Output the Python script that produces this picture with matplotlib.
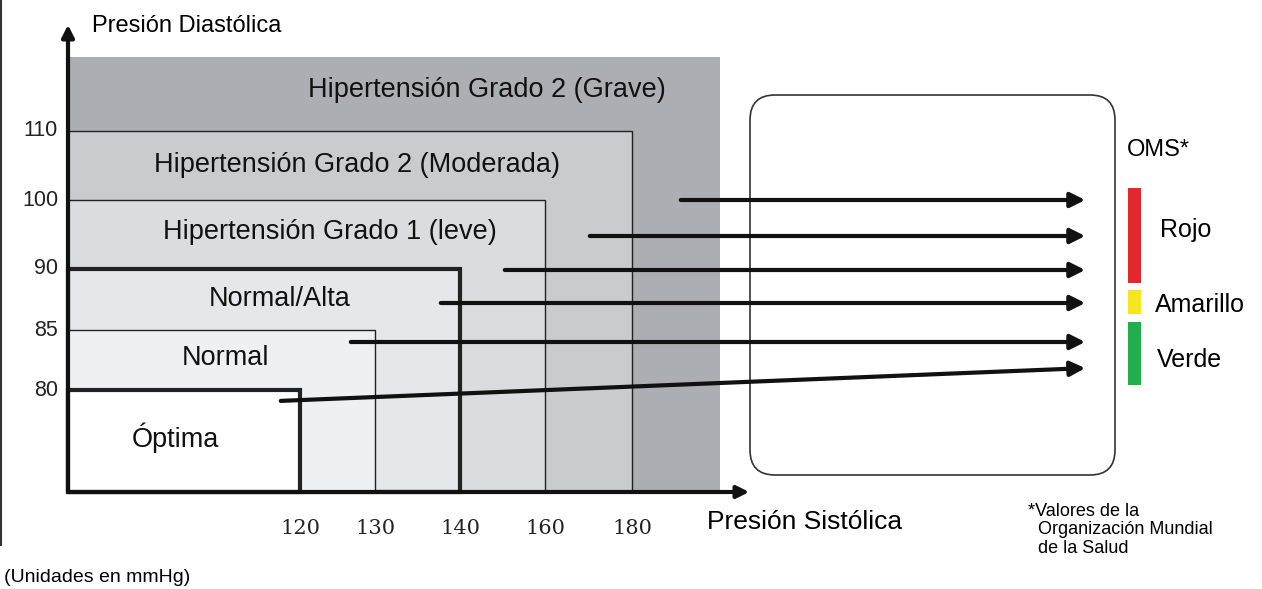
import matplotlib
matplotlib.use("Agg")
import matplotlib.pyplot as plt
import numpy as np
from matplotlib.patches import Rectangle, FancyBboxPatch

plt.rcParams['font.family'] = ['Liberation Sans', 'DejaVu Sans']

sys_ticks = [120, 130, 140, 160, 180]
dia_ticks = [80, 85, 90, 100, 110]
categories = ["Hipertensión Grado 2 (Grave)", "Hipertensión Grado 2 (Moderada)",
              "Hipertensión Grado 1 (leve)", "Normal/Alta", "Normal", "Óptima"]
cat_sys = [190, 180, 160, 140, 130, 120]
cat_dia = [116, 110, 100, 90, 85, 80]
oms_labels = ["Rojo", "Amarillo", "Verde"]

# pixel anchors for the non-linear scales
sx_v = [100, 120, 130, 140, 160, 180, 190]
sx_p = [68, 300, 375, 460, 545, 632, 720]
dy_v = [70, 80, 85, 90, 100, 110, 116]
dy_p = [492, 390, 330, 269, 200, 131, 57]
X = lambda v: np.interp(v, sx_v, sx_p)
Y = lambda v: np.interp(v, dy_v, dy_p)

fig = plt.figure(figsize=(12.62, 5.89), dpi=100)
ax = fig.add_axes([0, 0, 1, 1])
ax.set_xlim(0, 1262); ax.set_ylim(589, 0); ax.axis('off')

fills = ['#abaeb3', '#c9cbcf', '#dbdcdf', '#e6e7ea', '#eff0f2', 'white']
lws = [0, 1, 1, 3, 1, 3]
for c, s, d, f, lw in zip(categories, cat_sys, cat_dia, fills, lws):
    x1, y1 = X(s), Y(d)
    ax.add_patch(Rectangle((68, y1), x1 - 68, 492 - y1, facecolor=f,
                           edgecolor='#222' if lw else 'none', lw=lw))
lab_xy = [(487, 90), (357, 165), (330, 232), (280, 299), (225, 358), (175, 438)]
for c, (lx, ly) in zip(categories, lab_xy):
    ax.text(lx, ly, c, fontsize=19.5, ha='center', va='center', color='#111')

ax.annotate('', xy=(68, 22), xytext=(68, 494),
            arrowprops=dict(arrowstyle='-|>', lw=3, color='#111', mutation_scale=18))
ax.annotate('', xy=(752, 492), xytext=(66, 492),
            arrowprops=dict(arrowstyle='-|>', lw=3, color='#111', mutation_scale=18))
for v in sys_ticks:
    ax.text(X(v), 528, str(v), ha='center', va='center', fontsize=15,
            family=['DejaVu Serif'], color='#222')
for v in dia_ticks:
    ax.text(58, Y(v), str(v), ha='right', va='center', fontsize=15.5, color='#222')
ax.text(92, 26, 'Presión Diastólica', fontsize=17, va='center')
ax.text(707, 522, 'Presión Sistólica', fontsize=19, va='center')
ax.text(4, 578, '(Unidades en mmHg)', fontsize=14, va='center')
ax.plot([1, 1], [0, 545], color='#333', lw=1.5)

ax.add_patch(FancyBboxPatch((750, 95), 365, 380, boxstyle='round,pad=0,rounding_size=25',
                            facecolor='white', edgecolor='#333', lw=1.2))

arrows = [((678, 200), (1088, 200)), ((587, 236), (1088, 236)), ((502, 270), (1088, 270)),
          ((438, 303), (1088, 303)), ((348, 342), (1088, 342)), ((278, 401), (1088, 368))]
for (a, b) in arrows:
    ax.annotate('', xy=b, xytext=a,
                arrowprops=dict(arrowstyle='-|>', lw=3, color='#111', mutation_scale=22))

ax.add_patch(Rectangle((1128, 188), 13, 95, color='#e5262e', lw=0))
ax.add_patch(Rectangle((1128, 290), 13, 24, color='#f5e620', lw=0))
ax.add_patch(Rectangle((1128, 322), 13, 63, color='#1fb04b', lw=0))
ax.text(1127, 150, 'OMS*', fontsize=17, va='center')
for t, x0, yy in zip(oms_labels, [1160, 1155, 1157], [230, 305, 360]):
    ax.text(x0, yy, t, fontsize=18, va='center', ha='left')
ax.text(1028, 530, '*Valores de la\n  Organización Mundial\n  de la Salud', fontsize=13,
        va='center', linespacing=1.15)

fig.savefig('out.png', dpi=100)
